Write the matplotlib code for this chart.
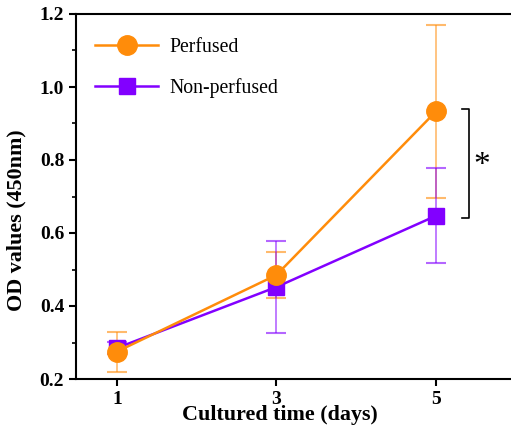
import matplotlib.pyplot as plt
import numpy as np

plt.rcParams["font.family"] = ["Liberation Serif", "DejaVu Serif"]

days = [1, 3, 5]
perfused_mean = [0.275, 0.485, 0.933]
perfused_err = [0.055, 0.062, 0.237]
nonperf_mean = [0.285, 0.452, 0.647]
nonperf_err = [0.017, 0.125, 0.130]

ORANGE = "#FF8C0A"
PURPLE = "#8200FF"

fig = plt.figure(figsize=(5.11, 4.25), dpi=100)
ax = fig.add_axes([76 / 511, 1 - 379 / 425, (530 - 76) / 511, (379 - 14) / 425])

# error bars (purple caps sit above orange ones)
ax.errorbar(days, perfused_mean, yerr=perfused_err, fmt="none", ecolor=ORANGE,
            alpha=0.6, elinewidth=1.2, capsize=7, capthick=1.5, zorder=2)
ax.errorbar(days, nonperf_mean, yerr=nonperf_err, fmt="none", ecolor=PURPLE,
            alpha=0.6, elinewidth=1.2, capsize=7, capthick=1.5, zorder=3)

ax.plot(days, nonperf_mean, color=PURPLE, lw=1.8, marker="s", ms=11,
        mec=PURPLE, mfc=PURPLE, label="Non-perfused", zorder=4)
ax.plot(days, perfused_mean, color=ORANGE, lw=1.8, marker="o", ms=14,
        mec=ORANGE, mfc=ORANGE, label="Perfused", zorder=5)

# significance bracket
bx, tick = 5.41, 0.08
ax.plot([bx - tick, bx, bx, bx - tick], [0.94, 0.94, 0.641, 0.641], color="black", lw=1.2, clip_on=False)
ax.text(5.58, 0.785, "*", fontsize=24, ha="center", va="center")

ax.set_xlim(0.486, 6.18)
ax.set_ylim(0.2, 1.2)
ax.set_xticks(days)
ax.set_yticks(np.arange(0.2, 1.21, 0.2))
ax.set_yticks(np.arange(0.3, 1.2, 0.2), minor=True)
ax.set_yticklabels([f"{v:.1f}" for v in np.arange(0.2, 1.21, 0.2)])
ax.tick_params(axis="both", direction="out", width=1.5, length=5, labelsize=14)
ax.tick_params(axis="y", which="minor", direction="out", width=1.2, length=3)
for lab in ax.get_xticklabels() + ax.get_yticklabels():
    lab.set_fontweight("bold")
for sp in ax.spines.values():
    sp.set_linewidth(1.5)

ax.set_xlabel("Cultured time (days)", fontsize=15.8, fontweight="bold")
ax.xaxis.set_label_coords(0.449, -0.072)
ax.set_ylabel("OD values (450nm)", fontsize=15.8, fontweight="bold")
ax.yaxis.set_label_coords(-0.11, 0.436)

handles, labels = ax.get_legend_handles_labels()
ax.legend(handles[::-1], labels[::-1], loc="upper left", frameon=False, fontsize=14.2,
          handlelength=3.2, handletextpad=0.55, borderpad=0, borderaxespad=0,
          labelspacing=1.1, bbox_to_anchor=(0.042, 0.935))

fig.savefig("out.png", dpi=100)
